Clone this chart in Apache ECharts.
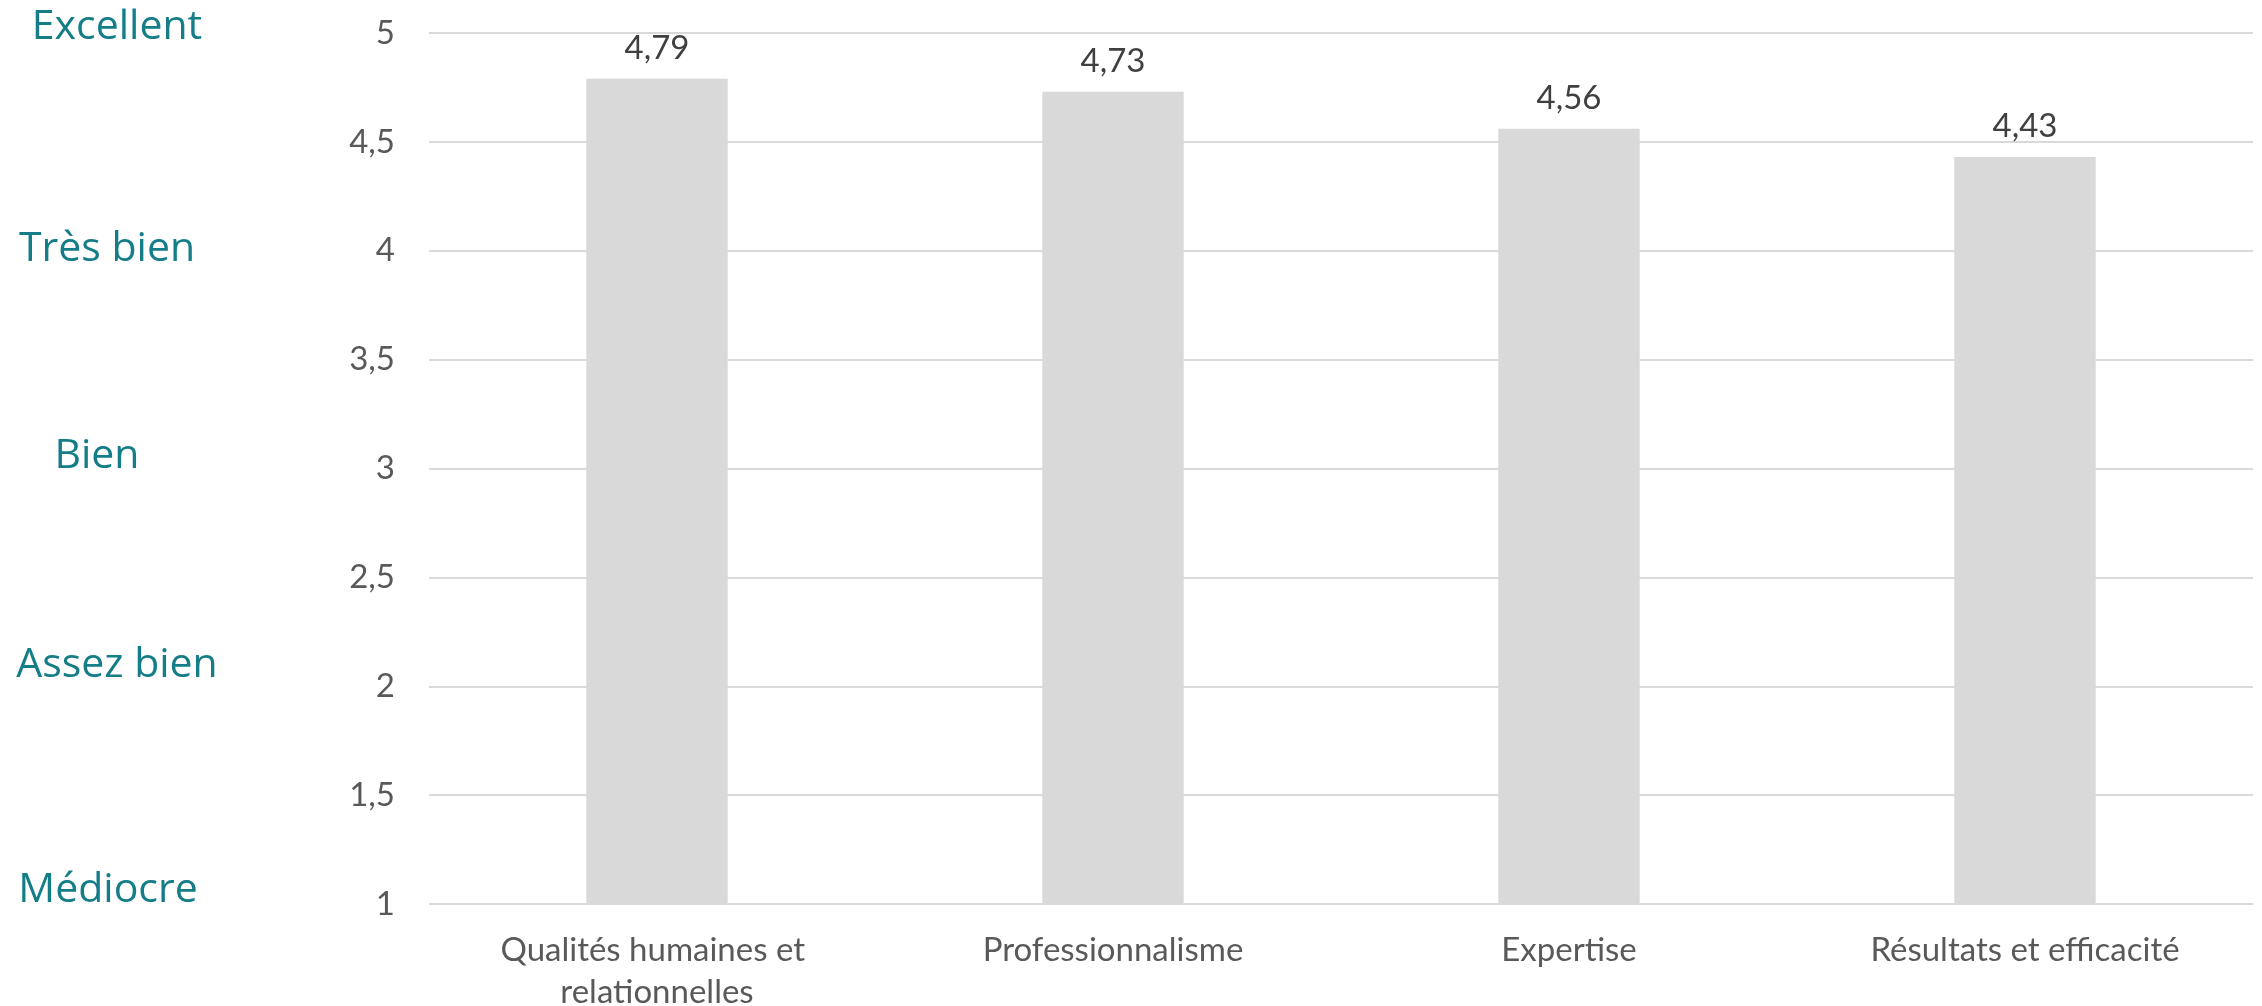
<!DOCTYPE html>
<html><head><meta charset="utf-8">
<script src="https://cdn.jsdelivr.net/npm/echarts@6/dist/echarts.min.js"></script>
<style>html,body{margin:0;padding:0;background:#fff}#c{width:2262px;height:1006px}</style>
</head><body><div id="c"></div>
<script>
const categories = ['Qualités humaines et relationnelles', 'Professionnalisme', 'Expertise', 'Résultats et efficacité'];
const scores = [4.79, 4.73, 4.56, 4.43];
const ratingLabels = {1: 'Médiocre', 2: 'Assez bien', 3: 'Bien', 4: 'Très bien', 5: 'Excellent'};

const font = 'Lato, "Open Sans", sans-serif';
const fmt = v => String(v).replace('.', ',');
const teal = '#147D88';
const rs = pad => ({color: teal, fontFamily: '"Open Sans", sans-serif', fontSize: 41, padding: pad});

const chart = echarts.init(document.getElementById('c'));
chart.setOption({
  animation: false,
  grid: {left: 429, right: 9, top: 33, bottom: 102, outerBoundsMode: 'none', containLabel: false},
  xAxis: {
    type: 'category', data: categories,
    axisLine: {show: false}, axisTick: {show: false},
    axisLabel: {color: '#595959', fontFamily: font, fontSize: 33, margin: 25, lineHeight: 42,
      width: 390, overflow: 'break', interval: 0}
  },
  yAxis: [{
    type: 'value', min: 1, max: 5, interval: 0.5,
    axisLine: {show: false}, axisTick: {show: false},
    splitLine: {lineStyle: {color: '#D9D9D9', width: 2}},
    axisLabel: {color: '#595959', fontFamily: font, fontSize: 33, margin: 34, formatter: fmt}
  }, {
    type: 'value', min: 1, max: 5, interval: 1, position: 'left',
    axisLine: {show: false}, axisTick: {show: false}, splitLine: {show: false},
    axisLabel: {
      align: 'center', margin: 314,
      formatter: v => ratingLabels[v] ? '{r' + v + '|' + ratingLabels[v] + '}' : '',
      rich: {
        r5: rs([0, 0, 12, 4]),
        r4: rs([0, 16, 2, 0]),
        r3: rs([0, 36, 24, 0]),
        r2: rs([0, 0, 42, 4]),
        r1: rs([0, 14, 28, 0])
      }
    }
  }],
  series: [{
    type: 'bar', data: scores, barWidth: '31%', yAxisIndex: 0,
    itemStyle: {color: '#D9D9D9'},
    label: {show: true, position: 'top', distance: 14, color: '#404040',
      fontFamily: font, fontSize: 33, formatter: p => fmt(p.value)}
  }]
});
</script></body></html>
